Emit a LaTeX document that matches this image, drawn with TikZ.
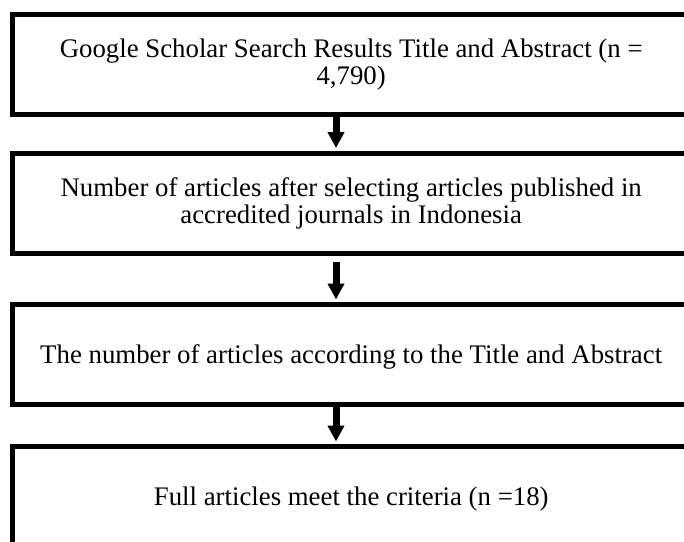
\documentclass[tikz,border=0pt]{standalone}
\usepackage{fontspec}
\setmainfont{Liberation Serif}
\usetikzlibrary{arrows.meta}

\begin{document}
\begin{tikzpicture}[ > = {Triangle[width=8pt,length=8pt]}, stage/.style = {draw, line width=2.5pt, minimum width=338.75pt, minimum height=50pt, align=center, font=\fontsize{13.4}{13.5}\selectfont}, oneline/.style = {text depth=0pt}, flow/.style = {line width=3.5pt, ->, shorten >=1.25pt}]

    % frame
    \useasboundingbox (0,0) rectangle (342pt,-270.5pt);
    \clip (0,0) rectangle (342pt,-270.5pt);
    \coordinate (ax) at (168pt,0);

    % stages
    \node[stage] (search) at (175.6pt,-32.1pt) {Google Scholar Search Results Title and Abstract (n =\\4,790)};
    \node[stage] (accredited) at (175.6pt,-101.5pt) {Number of articles after selecting articles published in\\accredited journals in Indonesia};
    \node[stage, oneline] (abstract) at (175.6pt,-177.25pt) {The number of articles according to the Title and Abstract};
    \node[stage, oneline] (full) at (175.6pt,-248.25pt) {Full articles meet the criteria (n =18)};

    % arrows
    \draw[flow] (search.south -| ax) -- (accredited.north -| ax);
    \draw[flow, shorten <=3.25pt] (accredited.south -| ax) -- (abstract.north -| ax);
    \draw[flow] (abstract.south -| ax) -- (full.north -| ax);

\end{tikzpicture}
\end{document}
